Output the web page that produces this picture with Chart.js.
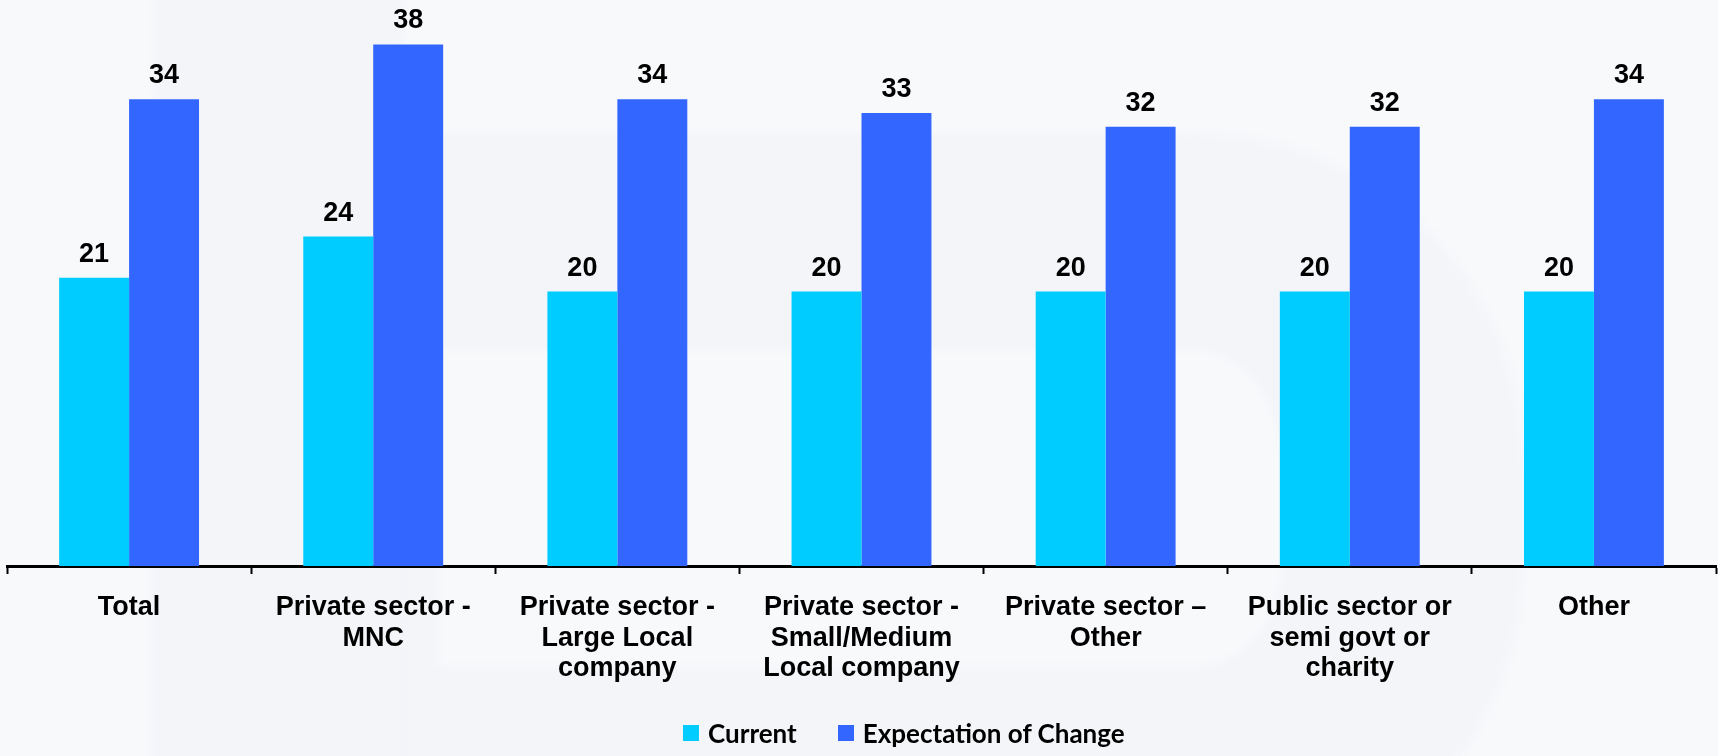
<!DOCTYPE html>
<html>
<head>
<meta charset="utf-8">
<script src="https://cdn.jsdelivr.net/npm/chart.js@4"></script>
<style>
  html, body { margin: 0; padding: 0; }
  body {
    width: 1718px; height: 756px; overflow: hidden; position: relative;
    background: #f8f9fb;
  }
  /* faint backdrop shapes */
  .bg { position: absolute; pointer-events: none; box-sizing: border-box; filter: blur(4px); }
  .bg-stem { left: 153px; top: -10px; width: 250px; height: 780px; background: #f3f5f9; }
  .bg-bowl {
    left: 153px; top: 133px; width: 1370px; height: 760px;
    border: 217px solid #f3f5f9; border-left-width: 285px; border-right-width: 241px; border-bottom-width: 226px;
    border-radius: 0 330px 330px 0; background: #f8f9fb;
  }
  #chart { position: absolute; left: 0; top: 0; }
  #legend {
    position: absolute; left: 683px; top: 717px; display: flex; align-items: center;
    font-family: Lato, "Open Sans", sans-serif; font-weight: 700; font-size: 26px; color: #000;
  }
  #legend .item { display: flex; align-items: center; margin-right: 41px; }
  #legend .box { width: 16px; height: 16px; margin-right: 9px; }
</style>
</head>
<body>
<div class="bg bg-bowl"></div>
<div class="bg bg-stem"></div>
<canvas id="chart" width="1718" height="756"></canvas>
<div id="legend"></div>

<script>
const categories = [
    ["Total"],
    ["Private sector -", "MNC"],
    ["Private sector -", "Large Local", "company"],
    ["Private sector -", "Small/Medium", "Local company"],
    ["Private sector \u2013", "Other"],
    ["Public sector or", "semi govt or", "charity"],
    ["Other"]
];
const seriesNames = ["Current", "Expectation of Change"];
const currentValues = [21, 24, 20, 20, 20, 20, 20];
const expectationValues = [34, 38, 34, 33, 32, 32, 34];
const seriesColors = ["#00ccff", "#3366ff"];

// value labels above each bar
const barValueLabels = {
    id: "barValueLabels",
    afterDatasetsDraw(chart) {
        const ctx = chart.ctx;
        ctx.save();
        ctx.font = "bold 27px 'Liberation Sans', Arial, sans-serif";
        ctx.fillStyle = "#000";
        ctx.textAlign = "center";
        ctx.textBaseline = "alphabetic";
        chart.data.datasets.forEach((ds, i) => {
            chart.getDatasetMeta(i).data.forEach((bar, j) => {
                ctx.fillText(ds.data[j], bar.x, bar.y - 16);
            });
        });
        ctx.restore();
    }
};

const chart = new Chart(document.getElementById("chart"), {
    type: "bar",
    data: {
        labels: categories,
        datasets: [
            { label: seriesNames[0], data: currentValues, backgroundColor: seriesColors[0] },
            { label: seriesNames[1], data: expectationValues, backgroundColor: seriesColors[1] }
        ]
    },
    options: {
        responsive: false,
        devicePixelRatio: 1,
        animation: false,
        layout: { padding: { top: 17, left: 7, right: 2, bottom: 0 } },
        datasets: { bar: { categoryPercentage: 0.573, barPercentage: 1.0 } },
        plugins: { legend: { display: false }, tooltip: { enabled: false } },
        scales: {
            x: {
                afterFit(scale) { scale.height = 190; },
                border: { display: true, color: "#000", width: 3 },
                grid: {
                    offset: true, drawOnChartArea: false, drawTicks: true,
                    tickLength: 8, tickColor: "#000", tickWidth: 2
                },
                ticks: {
                    color: "#000", padding: 18, maxRotation: 0, autoSkip: false,
                    font: { family: "'Liberation Sans', Arial, sans-serif", size: 27, weight: "bold", lineHeight: 1.14 }
                }
            },
            y: { display: false, min: 0, max: 40 }
        }
    },
    plugins: [barValueLabels]
});

// legend built from the chart's datasets
const legendEl = document.getElementById("legend");
chart.data.datasets.forEach(ds => {
    const item = document.createElement("div");
    item.className = "item";
    item.innerHTML = `<span class="box" style="background:${ds.backgroundColor}"></span><span>${ds.label}</span>`;
    legendEl.appendChild(item);
});
</script>
</body>
</html>
